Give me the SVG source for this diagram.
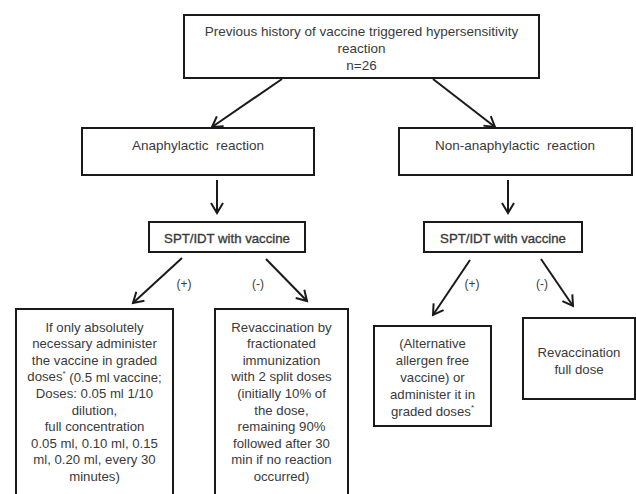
<svg xmlns="http://www.w3.org/2000/svg" width="636" height="494" viewBox="0 0 636 494">
<defs>
<marker id="arr" markerUnits="userSpaceOnUse" markerWidth="14" markerHeight="14" refX="11" refY="6" orient="auto" overflow="visible">
<path d="M1,0 L11,6 L1,12" fill="none" stroke="#1a1a1a" stroke-width="2"/>
</marker>
<style>
.box{fill:#fff;stroke:#1a1a1a;stroke-width:2}
.t{font-family:"Liberation Sans",Arial,sans-serif;fill:#3a3a3a;text-anchor:middle;dominant-baseline:central}
.s{font-size:13.5px}
.m{font-size:13.5px}
.b{font-size:13.2px}
.sp{font-size:13.2px;stroke:#3a3a3a;stroke-width:0.35}
.lbl{font-family:"Liberation Sans",Arial,sans-serif;fill:#3a3a3a;text-anchor:middle;dominant-baseline:central;font-size:12px}
.c{stroke:#1a1a1a;stroke-width:2;fill:none;marker-end:url(#arr)}
</style>
</defs>
<rect width="636" height="494" fill="#fff"/>
<g id="connectors">
<line class="c" x1="282" y1="79" x2="212" y2="127"/>
<line class="c" x1="433" y1="79" x2="495" y2="127"/>
<line class="c" x1="217" y1="180" x2="217" y2="213"/>
<line class="c" x1="508" y1="180" x2="508" y2="213"/>
<line class="c" x1="182" y1="258" x2="133" y2="303"/>
<line class="c" x1="266" y1="259" x2="307" y2="301"/>
<line class="c" x1="470" y1="260" x2="433" y2="315"/>
<line class="c" x1="541" y1="259" x2="573" y2="306"/>
<text class="lbl" x="184" y="284">(+)</text>
<text class="lbl" x="258" y="284">(-)</text>
<text class="lbl" x="472" y="284">(+)</text>
<text class="lbl" x="542" y="284">(-)</text>
</g>
<g id="history">
<rect class="box" x="184" y="15" width="355" height="63"/>
<text class="t s" x="361.5" y="31">Previous history of vaccine triggered hypersensitivity</text>
<text class="t s" x="361.5" y="48">reaction</text>
<text class="t s" x="361.5" y="65">n=26</text>
</g>
<g id="anaphylactic">
<rect class="box" x="82" y="128" width="232" height="47"/>
<text class="t m" x="198" y="145" xml:space="preserve">Anaphylactic  reaction</text>
</g>
<g id="nonanaphylactic">
<rect class="box" x="399" y="128" width="233" height="47"/>
<text class="t m" x="515" y="145" xml:space="preserve">Non-anaphylactic  reaction</text>
</g>
<g id="spt-left">
<rect class="box" x="149" y="222" width="156" height="30"/>
<text class="t sp" x="227" y="238">SPT/IDT with vaccine</text>
</g>
<g id="spt-right">
<rect class="box" x="424" y="222" width="158" height="30"/>
<text class="t sp" x="503" y="238">SPT/IDT with vaccine</text>
</g>
<g id="graded">
<rect class="box" x="16" y="309" width="157" height="190"/>
<text class="t b" x="94.5" y="327">If only absolutely</text>
<text class="t b" x="94.5" y="343.6">necessary administer</text>
<text class="t b" x="94.5" y="360.2">the vaccine in graded</text>
<text class="t b" x="94.5" y="376.8">doses<tspan font-size="8" dy="-4">*</tspan><tspan dy="4"> (0.5 ml vaccine;</tspan></text>
<text class="t b" x="94.5" y="393.4">Doses: 0.05 ml 1/10</text>
<text class="t b" x="94.5" y="410">dilution,</text>
<text class="t b" x="94.5" y="426.6">full concentration</text>
<text class="t b" x="94.5" y="443.2">0.05 ml, 0.10 ml, 0.15</text>
<text class="t b" x="94.5" y="459.8">ml, 0.20 ml, every 30</text>
<text class="t b" x="94.5" y="476.4">minutes)</text>
</g>
<g id="fractionated">
<rect class="box" x="215" y="309" width="133" height="190"/>
<text class="t b" x="281.5" y="327">Revaccination by</text>
<text class="t b" x="281.5" y="343.6">fractionated</text>
<text class="t b" x="281.5" y="360.2">immunization</text>
<text class="t b" x="281.5" y="376.8">with 2 split doses</text>
<text class="t b" x="281.5" y="393.4">(initially 10% of</text>
<text class="t b" x="281.5" y="410">the dose,</text>
<text class="t b" x="281.5" y="426.6">remaining 90%</text>
<text class="t b" x="281.5" y="443.2">followed after 30</text>
<text class="t b" x="281.5" y="459.8">min if no reaction</text>
<text class="t b" x="281.5" y="476.4">occurred)</text>
</g>
<g id="alternative">
<rect class="box" x="374" y="326" width="117" height="100"/>
<text class="t b" x="432.5" y="343">(Alternative</text>
<text class="t b" x="432.5" y="360">allergen free</text>
<text class="t b" x="432.5" y="377">vaccine) or</text>
<text class="t b" x="432.5" y="394">administer it in</text>
<text class="t b" x="432.5" y="411">graded doses<tspan font-size="8" dy="-4">*</tspan></text>
</g>
<g id="fulldose">
<rect class="box" x="523" y="318" width="112" height="81"/>
<text class="t b" x="579" y="352">Revaccination</text>
<text class="t b" x="579" y="369">full dose</text>
</g>
</svg>
